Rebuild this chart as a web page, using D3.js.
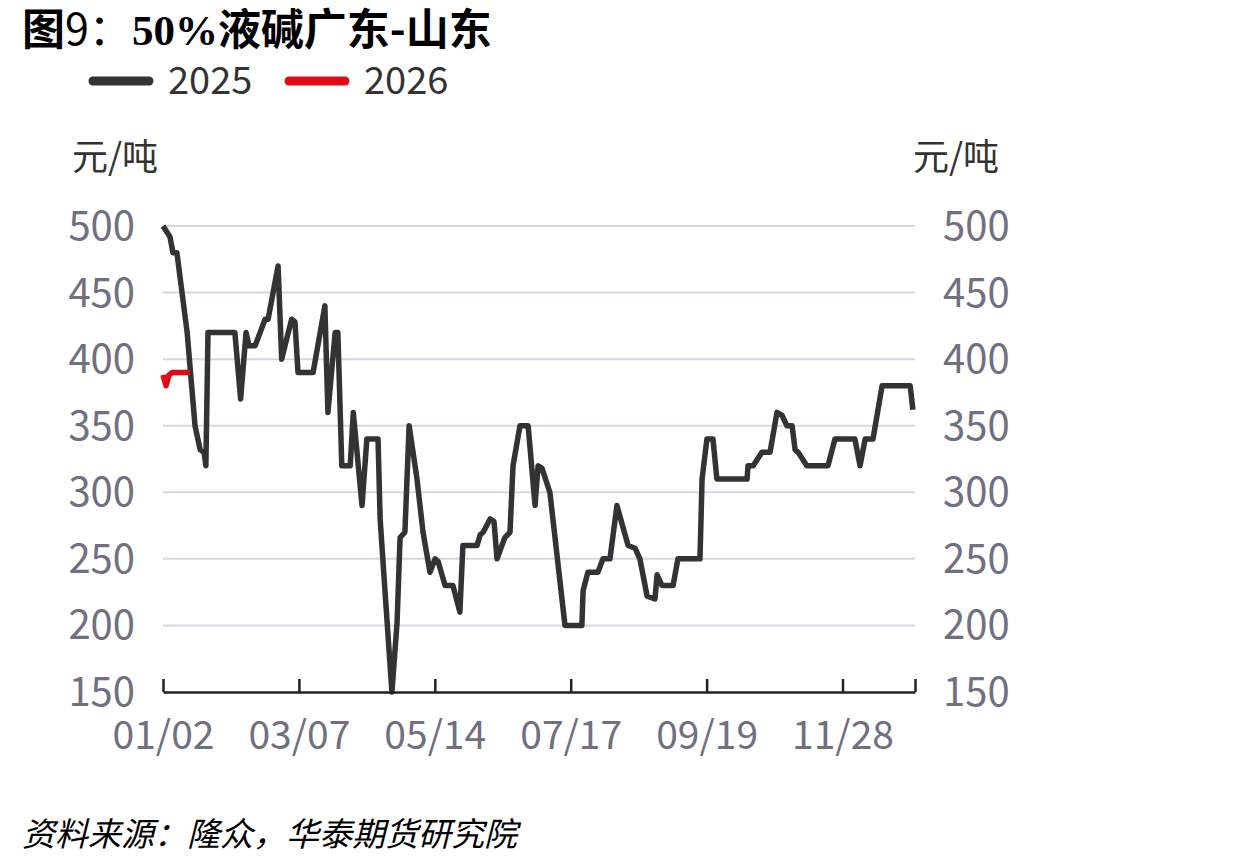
<!DOCTYPE html>
<meta charset="utf-8">
<script src="https://cdn.jsdelivr.net/npm/d3@7"></script>
<style>
    body { margin: 0; background: #fff; }
    text { font-family: "Noto Sans CJK SC", "Open Sans", sans-serif; }
</style>
<svg width="1240" height="866"></svg>
<script>
    // category positions (trading-day index) and values
    var idx2025 = [0, 2.3, 3.3, 4.6, 8, 10.6, 12.3, 13.6, 14.2, 14.9, 23.8, 25.7, 27.5, 28.5, 30.5, 33.8, 34.8, 38.1, 39.3, 42.6,
        43.7, 44.7, 49.7, 53.6, 54.6, 57, 57.9, 59.2, 62, 63, 65.9, 67.5, 71.2, 71.9, 73.5, 75.8, 77.5, 78.5, 80.1, 81.5,
        84.1, 86.1, 88.4, 90.1, 91.1, 93.4, 96, 98.3, 99.3, 104, 105, 106, 108.3, 109.6, 110.6, 113.2, 114.9, 115.9, 118.2, 120.9,
        123.2, 124.2, 125.5, 128.1, 133.1, 138.7, 139.1, 140.7, 144, 145.7, 148, 150.3, 154, 156.3, 157.9, 160.3, 162.9, 163.6, 165.2, 168.9,
        170.5, 177.8, 178.5, 180.1, 182.1, 183.4, 193.4, 193.7, 195.4, 198.3, 201, 203.3, 204.9, 206.6, 208.3, 209.3, 210.3, 213.2, 220.2, 222.5,
        229.1, 230.8, 232.5, 235.1, 238.1, 247.4, 248.3];
    var val2025 = [500, 492, 480, 480, 420, 350, 332, 330, 320, 420, 420, 370, 420, 410, 410, 430, 430, 470, 400, 430,
        428, 390, 390, 440, 360, 420, 420, 320, 320, 360, 290, 340, 340, 280, 226, 150, 202, 266, 270, 350,
        310, 270, 240, 250, 248, 230, 230, 210, 260, 260, 268, 270, 280, 278, 250, 266, 270, 320, 350, 350,
        290, 320, 318, 300, 200, 200, 226, 240, 240, 250, 250, 290, 260, 258, 250, 222, 220, 238, 230, 230,
        250, 250, 310, 340, 340, 310, 310, 320, 320, 330, 330, 360, 358, 350, 350, 332, 330, 320, 320, 340,
        340, 320, 340, 340, 380, 380, 362];
    var idx2026 = [0, 1, 2, 3, 4, 5, 6, 7, 8, 9];
    var val2026 = [388, 380, 388, 390, 390, 390, 390, 390, 390, 390];

    var xTicks = [0, 45, 90, 135, 180, 225, 249];
    var xTickLabels = ["01/02", "03/07", "05/14", "07/17", "09/19", "11/28", ""];
    var yTicks = [150, 200, 250, 300, 350, 400, 450, 500];
    var seriesNames = ["2025", "2026"];
    var seriesColors = ["#333333", "#e00a16"];

    var svg = d3.select("svg"),
        margin = {top: 226, right: 325, bottom: 174, left: 163},
        width = 1240 - margin.left - margin.right,
        height = 866 - margin.top - margin.bottom,
        g = svg.append("g").attr("transform", "translate(" + margin.left + "," + margin.top + ")");

    var x = d3.scaleLinear().domain([0, 249]).range([0, width]);
    var y = d3.scaleLinear().domain([150, 500]).range([height, 0]);

    // title
    var title = svg.append("text").attr("x", 22).attr("y", 45)
        .attr("font-size", 43).attr("font-weight", "bold").attr("fill", "#000");
    title.append("tspan").text("图");
    title.append("tspan").attr("font-weight", "normal").text("9：");
    title.append("tspan").attr("font-family", "Liberation Serif").text("50%");
    title.append("tspan").text("液碱广东-山东");

    // legend
    var legend = svg.selectAll(".legend")
        .data(seriesNames)
        .enter().append("g")
        .attr("class", "legend")
        .attr("transform", function (d, i) { return "translate(" + (93 + i * 196) + ",81)"; });
    legend.append("line")
        .attr("x1", 0).attr("x2", 56).attr("y1", 0).attr("y2", 0)
        .attr("stroke", function (d, i) { return seriesColors[i]; })
        .attr("stroke-width", 9).attr("stroke-linecap", "round");
    legend.append("text")
        .attr("x", 75).attr("y", 0).attr("dy", "0.35em")
        .attr("font-size", 38).attr("fill", "#333")
        .text(function (d) { return d; });

    // unit labels
    svg.append("text").attr("x", 72).attr("y", 170).attr("font-size", 36).attr("fill", "#333").text("元/吨");
    svg.append("text").attr("x", 913).attr("y", 170).attr("font-size", 36).attr("fill", "#333").text("元/吨");

    // grid
    g.selectAll(".grid")
        .data(yTicks.slice(1))
        .enter().append("line")
        .attr("x1", 0).attr("x2", width)
        .attr("y1", y).attr("y2", y)
        .attr("stroke", "#d3d8e3").attr("stroke-width", 2);

    // y labels both sides
    g.selectAll(".yl")
        .data(yTicks)
        .enter().append("text")
        .attr("x", -28).attr("y", y).attr("dy", "0.35em")
        .attr("text-anchor", "end").attr("font-size", 40).attr("fill", "#707080")
        .text(function (d) { return d; });
    g.selectAll(".yr")
        .data(yTicks)
        .enter().append("text")
        .attr("x", width + 28).attr("y", y).attr("dy", "0.35em")
        .attr("text-anchor", "start").attr("font-size", 40).attr("fill", "#707080")
        .text(function (d) { return d; });

    // lines
    var line = d3.line()
        .x(function (d) { return x(d[0]); })
        .y(function (d) { return y(d[1]); })
        .curve(d3.curveLinear);

    g.append("path")
        .datum(d3.zip(idx2025, val2025))
        .attr("fill", "none").attr("stroke", seriesColors[0])
        .attr("stroke-width", 5.5).attr("stroke-linejoin", "round")
        .attr("d", line);
    g.append("path")
        .datum(d3.zip(idx2026, val2026))
        .attr("fill", "none").attr("stroke", seriesColors[1])
        .attr("stroke-width", 5.5).attr("stroke-linejoin", "round")
        .attr("d", line);

    // x axis
    var xAxis = g.append("g").attr("transform", "translate(0," + height + ")")
        .call(d3.axisBottom(x).tickValues(xTicks).tickSize(-13).tickSizeOuter(0)
            .tickFormat(function (d, i) { return xTickLabels[i]; }));
    xAxis.select(".domain").attr("stroke", "#222").attr("stroke-width", 2.5);
    xAxis.selectAll(".tick line").attr("stroke", "#222").attr("stroke-width", 2.5);
    xAxis.selectAll(".tick text")
        .attr("y", 57).attr("dy", "0")
        .attr("font-family", "Noto Sans CJK SC")
        .attr("font-size", 39).attr("fill", "#707080");

    // source
    svg.append("text").attr("x", 22).attr("y", 846)
        .attr("font-size", 33).attr("font-style", "italic").attr("fill", "#000")
        .text("资料来源：隆众，华泰期货研究院");
</script>
